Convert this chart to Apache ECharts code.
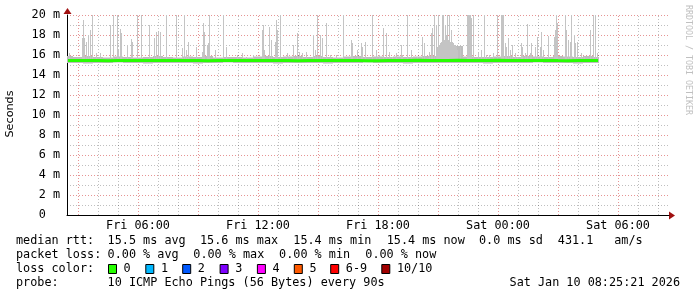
<!DOCTYPE html>
<html><head><meta charset="utf-8">
<script src="https://cdn.jsdelivr.net/npm/echarts@6/dist/echarts.min.js"></script>
<style>html,body{margin:0;padding:0;background:#fff}#c{width:697px;height:297px}</style>
</head><body><div id="c"></div>
<script>
// ---- axis ranges (hours since Fri 00:00) ----
const xStart = 2.45, xEnd = 32.55, dataEnd = 29.05;
const tickHours = [6, 12, 18, 24, 30];
const tickLabels = ['Fri 06:00', 'Fri 12:00', 'Fri 18:00', 'Sat 00:00', 'Sat 06:00'];
const majorGridHours = [3, 6, 9, 12, 15, 18, 21, 24, 27, 30];
const minorGridHours = [4, 5, 7, 8, 10, 11, 13, 14, 16, 17, 19, 20, 22, 23, 25, 26, 28, 29, 31, 32];
const yTicks = [0, 2, 4, 6, 8, 10, 12, 14, 16, 18, 20];

// ---- samples every 0.5 h starting at 2.5 h (values in ms) ----
const sampleStart = 2.5, sampleStep = 0.5;
const medianRtt = [
  15.45,15.44,15.46,15.45,15.43,15.45,15.44,15.46,15.45,15.44,
  15.45,15.46,15.44,15.45,15.43,15.45,15.46,15.44,15.45,15.45,
  15.44,15.46,15.45,15.43,15.44,15.45,15.46,15.45,15.44,15.45,
  15.43,15.42,15.44,15.45,15.46,15.47,15.46,15.45,15.46,15.47,
  15.46,15.45,15.46,15.47,15.46,15.45,15.44,15.45,15.46,15.44,
  15.43,15.45,15.44,15.45];
const smokeHigh = [
  15.9,15.8,15.9,15.8,15.75,15.85,15.8,15.75,15.8,15.9,
  15.8,15.75,15.85,15.8,15.9,15.75,15.8,15.8,15.75,15.85,
  15.9,15.8,15.85,15.9,15.8,15.9,15.8,15.75,15.85,15.9,
  15.8,15.85,15.8,15.85,15.8,15.85,15.9,15.9,17.2,16.9,
  15.85,15.8,15.8,15.85,15.9,15.8,15.9,15.85,15.8,15.9,
  15.85,15.8,15.9,15.8];
const smokeLow = [
  15.2,15.2,15.15,15.2,15.2,15.25,15.2,15.2,15.15,15.2,
  15.2,15.2,15.2,15.15,15.2,15.2,15.25,15.2,15.2,15.2,
  15.2,15.15,15.2,15.2,15.2,15.2,15.15,15.2,15.2,15.2,
  15.25,15.2,15.2,15.2,15.15,15.2,15.2,15.2,15.2,15.2,
  15.2,15.2,15.15,15.2,15.2,15.2,15.2,15.25,15.2,15.2,
  15.2,15.15,15.2,15.2];

// ---- smoke spikes: [hour, max rtt ms] (values >20 are clipped) ----
const spikeBase = 15.3;
const spikes = [
  [2.55,16.2],[3.20,17.7],[3.25,19.5],[3.30,17.7],[3.40,17.3],[3.50,18.0],[3.60,18.5],[3.70,21],
  [3.90,16.2],[4.10,16.2],[4.60,19.0],[4.75,21],[4.95,21],[5.00,16.6],[5.10,18.6],[5.15,18.2],
  [5.45,17.0],[5.65,17.6],[5.70,17.3],[5.95,21],[6.15,21],[6.55,19.0],[6.80,17.7],[6.90,18.3],
  [7.00,18.3],[7.10,18.3],[7.40,21],[7.90,21],[8.20,16.7],[8.30,21],[8.40,16.5],[8.50,17.3],
  [8.90,16.8],[9.20,16.3],[9.25,19.2],[9.30,18.3],[9.45,17.0],[9.50,17.2],[9.55,21],[9.85,16.5],
  [10.25,21],[10.40,16.8],[10.95,16.0],[11.20,16.2],[11.40,15.8],[11.75,16.0],[12.20,18.5],
  [12.25,19.0],[12.30,16.5],[12.55,18.8],[12.65,17.5],[12.85,17.3],[12.90,19.5],[12.95,18.5],
  [13.10,21],[13.45,16.2],[13.75,17.0],[13.95,18.2],[14.05,16.3],[14.20,16.2],[14.40,16.3],
  [14.75,18.0],[14.85,16.5],[14.95,21],[15.10,18.0],[15.20,17.7],[15.40,19.2],[15.60,16.0],
  [15.90,16.0],[16.25,21],[16.65,17.5],[16.70,17.2],[16.95,16.5],[17.15,17.2],[17.20,16.8],
  [17.35,17.3],[17.70,21],[17.90,16.5],[18.05,16.0],[18.25,18.7],[18.40,18.2],[18.55,16.3],
  [18.70,15.8],[18.90,16.2],[19.15,17.0],[19.20,16.0],[19.45,21],[19.65,16.5],[19.95,15.8],
  [20.20,17.8],[20.30,17.2],[20.55,16.3],[20.65,18.2],[20.70,18.7],[20.80,21],[20.90,19.0],
  [20.95,16.8],[21.00,21],[21.05,17.0],[21.10,17.2],[21.15,17.3],[21.20,21],[21.25,21],
  [21.30,17.5],[21.35,19.0],[21.40,18.0],[21.45,21],[21.50,17.5],[21.55,21],[21.60,17.3],
  [21.65,18.5],[21.70,17.3],[21.75,17.2],[21.80,17.0],[21.85,17.0],[21.90,16.8],[21.95,16.5],
  [22.10,16.8],[22.45,21],[22.50,21],[22.55,21],[22.60,21],[22.65,19.7],[22.75,21],[23.00,16.2],
  [23.15,16.5],[23.30,21],[23.40,16.0],[23.55,16.0],[23.75,16.2],[23.95,21],[24.15,21],
  [24.20,21],[24.25,21],[24.35,17.2],[24.40,16.8],[24.50,17.7],[24.60,16.5],[24.70,17.0],
  [24.85,16.2],[24.95,15.8],[25.15,17.2],[25.20,16.8],[25.35,16.2],[25.45,19.1],[25.60,16.2],
  [25.65,17.2],[25.85,16.8],[25.95,17.8],[26.10,16.8],[26.15,18.3],[26.25,16.5],[26.50,17.9],
  [26.80,17.8],[26.85,18.5],[26.90,21],[26.95,19.2],[27.35,21],[27.40,18.5],[27.50,17.5],
  [27.60,17.3],[27.65,21],[27.80,18.0],[27.85,17.2],[27.95,17.3],[28.15,16.2],[28.30,15.8],
  [28.60,18.5],[28.75,21],[28.85,21],[28.95,16.2]];

// ---- legend texts ----
const rttLabel = 'median rtt:';
const rttStats = ['15.5 ms avg', '15.6 ms max', '15.4 ms min', '15.4 ms now', '0.0 ms sd', '431.1', 'am/s'];
const lossLabel = 'packet loss:';
const lossStats = ['0.00 % avg', '0.00 % max', '0.00 % min', '0.00 % now'];
const colorLabel = 'loss color:';
const lossColorLabels = ['0', '1', '2', '3', '4', '5', '6-9', '10/10'];
const lossColors = ['#26ff00', '#00b8ff', '#0059ff', '#7e00ff', '#ff00ff', '#ff5a00', '#ff0000', '#a10000'];
const probeLabel = 'probe:';
const probeText = '10 ICMP Echo Pings (56 Bytes) every 90s';
const stampText = 'Sat Jan 10 08:25:21 2026';
const watermark = 'RRDTOOL / TOBI OETIKER';
const yTitle = 'Seconds';

// ---- build ----
const MONO = 'DejaVu Sans Mono';
const FS = 11.8;
const sampleHours = medianRtt.map((_, i) => sampleStart + i * sampleStep);
const bandData = sampleHours.map((t, i) => [t, smokeLow[i], smokeHigh[i]]);
const medianData = sampleHours.map((t, i) => [t, medianRtt[i]]);

const chart = echarts.init(document.getElementById('c'), null, {renderer: 'canvas'});

const gridMarks = majorGridHours.map(h => ({xAxis: h, lineStyle: {color: 'rgba(210,60,60,0.55)', type: [1, 2], width: 1}}))
  .concat(minorGridHours.map(h => ({xAxis: h, lineStyle: {color: 'rgba(0,0,0,0.25)', type: [1, 2], width: 1}})));

function textEl(x, y, txt, extra) {
  return Object.assign({type: 'text', x: x, y: y, silent: true,
    style: {text: txt, font: FS + 'px "' + MONO + '"', fill: '#000', textVerticalAlign: 'middle', verticalAlign: 'middle'}}, extra || {});
}

const rttX = [107.6, 200, 293.3, 386.7, 479, 557.8, 614.2];
const lossX = [107.6, 193.3, 279.1, 365.3];
const boxX = [108, 145.3, 182.2, 219.6, 256.9, 293.8, 330.2, 381.3];
const graphics = [];
graphics.push(textEl(16, 241, rttLabel));
rttStats.forEach((s, i) => graphics.push(textEl(rttX[i], 241, s)));
graphics.push(textEl(16, 255, lossLabel));
lossStats.forEach((s, i) => graphics.push(textEl(lossX[i], 255, s)));
graphics.push(textEl(16, 269, colorLabel));
lossColorLabels.forEach((s, i) => {
  graphics.push({type: 'rect', silent: true, shape: {x: boxX[i] + 0.5, y: 264.5, width: 8, height: 9},
    style: {fill: lossColors[i], stroke: '#000', lineWidth: 1}});
  graphics.push(textEl(boxX[i] + 15.6, 269, s));
});
graphics.push(textEl(16, 283, probeLabel));
graphics.push(textEl(107.6, 283, probeText));
graphics.push(textEl(680, 283, stampText, {style: {text: stampText, font: FS + 'px "' + MONO + '"', fill: '#000', align: 'right', textAlign: 'right', verticalAlign: 'middle'}}));
// watermark
graphics.push({type: 'text', x: 688, y: 5, rotation: -Math.PI / 2, silent: true,
  style: {text: watermark, font: '8.3px "' + MONO + '"', fill: '#c0c0c0', align: 'left', verticalAlign: 'middle'}});
// y title
graphics.push({type: 'text', x: 10, y: 114, rotation: Math.PI / 2, silent: true,
  style: {text: yTitle, font: '11.2px "DejaVu Sans"', fill: '#000', align: 'center', verticalAlign: 'middle'}});
// axis arrows
graphics.push({type: 'polygon', silent: true, shape: {points: [[669, 211.5], [675, 215.5], [669, 219.5]]}, style: {fill: '#a01010'}});
graphics.push({type: 'polygon', silent: true, shape: {points: [[63.5, 14], [67.5, 8], [71.5, 14]]}, style: {fill: '#a01010'}});

chart.setOption({
  animation: false,
  backgroundColor: '#fff',
  grid: {left: 67, right: 28, top: 15, bottom: 82, containLabel: false},
  xAxis: {
    type: 'value', min: xStart, max: xEnd,
    axisLine: {show: true, lineStyle: {color: '#000', width: 1}},
    axisTick: {show: false},
    splitLine: {show: false},
    axisLabel: {
      customValues: tickHours,
      formatter: v => tickLabels[tickHours.indexOf(Math.round(v))] || '',
      fontFamily: MONO, fontSize: FS, color: '#000', margin: 5
    }
  },
  yAxis: {
    type: 'value', min: 0, max: 20, interval: 2,
    axisLine: {show: true, lineStyle: {color: '#000', width: 1}},
    axisTick: {show: false},
    splitLine: {show: true, lineStyle: {color: 'rgba(210,60,60,0.55)', type: [1, 2], width: 1}},
    minorTick: {show: false, splitNumber: 2},
    minorSplitLine: {show: true, lineStyle: {color: 'rgba(0,0,0,0.25)', type: [1, 2], width: 1}},
    axisLabel: {
      formatter: v => v === 0 ? '0  ' : v + ' m',
      fontFamily: MONO, fontSize: FS, color: '#000', margin: 7
    }
  },
  graphic: graphics,
  series: [
    {
      type: 'custom', name: 'smoke', clip: true, z: 2,
      data: bandData,
      renderItem: function (params, api) {
        const t = api.value(0);
        const a = Math.max(t - sampleStep / 2, xStart), b = Math.min(t + sampleStep / 2, dataEnd);
        const p1 = api.coord([a, api.value(2)]), p2 = api.coord([b, api.value(1)]);
        return {type: 'rect', shape: {x: p1[0], y: p1[1], width: p2[0] - p1[0], height: p2[1] - p1[1]},
          style: {fill: '#bdbdbd'}};
      },
      markLine: {silent: true, symbol: 'none', label: {show: false}, data: gridMarks, z: 1}
    },
    {
      type: 'custom', name: 'spikes', clip: true, z: 3,
      data: spikes,
      renderItem: function (params, api) {
        const top = api.coord([api.value(0), api.value(1)]);
        const base = api.coord([api.value(0), spikeBase]);
        return {type: 'rect', shape: {x: Math.round(top[0]), y: top[1], width: 1, height: base[1] - top[1]},
          style: {fill: '#c4c4c4'}};
      }
    },
    {
      type: 'line', name: 'median', z: 5, data: medianData,
      showSymbol: false, symbol: 'none',
      lineStyle: {color: '#26ff00', width: 3}
    }
  ]
});
</script></body></html>
